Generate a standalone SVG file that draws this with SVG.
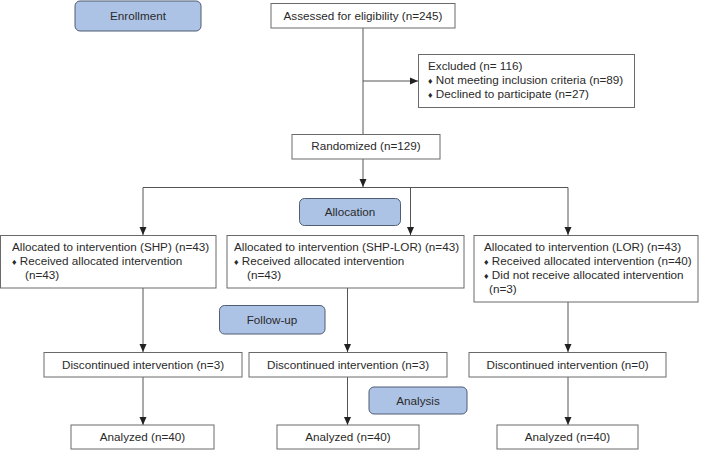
<svg xmlns="http://www.w3.org/2000/svg" width="702" height="450" viewBox="0 0 702 450">
<defs>
<marker id="arr" markerUnits="userSpaceOnUse" markerWidth="8" markerHeight="8" viewBox="0 0 8 8" refX="8" refY="4" orient="auto">
<path d="M0,0.5 L8,4 L0,7.5 Z" fill="#222"/>
</marker>
<style>
.box{fill:#fff;stroke:#6a6a6a;stroke-width:1}
.stage{fill:#adc3e6;stroke:#4f5d75;stroke-width:1}
.t{font-family:"Liberation Sans",Arial,sans-serif;font-size:11.7px;fill:#2a2a2a}
.c{text-anchor:middle}
.b{font-size:9px}
.ln{fill:none;stroke:#555;stroke-width:1}
</style>
</defs>
<rect width="702" height="450" fill="#fff"/>
<g id="connectors">
<path class="ln" d="M363,28 V134"/>
<path class="ln" d="M363,81 H418" marker-end="url(#arr)"/>
<path class="ln" d="M363,159 V187" marker-end="url(#arr)"/>
<path class="ln" d="M143,187.5 H568"/>
<path class="ln" d="M143,187.5 V235" marker-end="url(#arr)"/>
<path class="ln" d="M410.5,187.5 V235" marker-end="url(#arr)"/>
<path class="ln" d="M568,187.5 V235" marker-end="url(#arr)"/>
<path class="ln" d="M143,288 V352" marker-end="url(#arr)"/>
<path class="ln" d="M347.5,288 V352" marker-end="url(#arr)"/>
<path class="ln" d="M568,302 V352" marker-end="url(#arr)"/>
<path class="ln" d="M143,377 V425" marker-end="url(#arr)"/>
<path class="ln" d="M347.5,377 V425" marker-end="url(#arr)"/>
<path class="ln" d="M568,377 V425" marker-end="url(#arr)"/>
</g>
<g id="enrollment">
<rect class="stage" x="75" y="1" width="126" height="30" rx="5"/>
<text class="t c" x="138" y="19.5">Enrollment</text>
</g>
<g id="assessed">
<rect class="box" x="271" y="3.5" width="184" height="24.5"/>
<text class="t c" x="363" y="19.5">Assessed for eligibility (n=245)</text>
</g>
<g id="excluded">
<rect class="box" x="418.5" y="54.5" width="216" height="53"/>
<text class="t" x="428" y="70">Excluded (n= 116)</text>
<text class="t" x="428" y="84"><tspan class="b">♦</tspan> Not meeting inclusion criteria (n=89)</text>
<text class="t" x="428" y="98"><tspan class="b">♦</tspan> Declined to participate (n=27)</text>
</g>
<g id="randomized">
<rect class="box" x="292" y="134.5" width="148" height="24.5"/>
<text class="t c" x="366" y="150">Randomized (n=129)</text>
</g>
<g id="allocation">
<rect class="stage" x="299.5" y="198.5" width="101" height="27" rx="5"/>
<text class="t c" x="350" y="216">Allocation</text>
</g>
<g id="alloc-shp">
<rect class="box" x="0.5" y="235.5" width="215.5" height="52.5"/>
<text class="t" x="12" y="251">Allocated to intervention (SHP) (n=43)</text>
<text class="t" x="12" y="265"><tspan class="b">♦</tspan> Received allocated intervention</text>
<text class="t" x="25" y="279">(n=43)</text>
</g>
<g id="alloc-shp-lor">
<rect class="box" x="227" y="235.5" width="237" height="52.5"/>
<text class="t" x="234" y="251">Allocated to intervention (SHP-LOR) (n=43)</text>
<text class="t" x="234" y="265"><tspan class="b">♦</tspan> Received allocated intervention</text>
<text class="t" x="247" y="279">(n=43)</text>
</g>
<g id="alloc-lor">
<rect class="box" x="474" y="235.5" width="224" height="66.5"/>
<text class="t" x="484" y="251">Allocated to intervention (LOR) (n=43)</text>
<text class="t" x="484" y="265"><tspan class="b">♦</tspan> Received allocated intervention (n=40)</text>
<text class="t" x="484" y="279"><tspan class="b">♦</tspan> Did not receive allocated intervention</text>
<text class="t" x="489" y="293">(n=3)</text>
</g>
<g id="followup">
<rect class="stage" x="219.5" y="305.5" width="105.5" height="28.5" rx="5"/>
<text class="t c" x="272" y="324">Follow-up</text>
</g>
<g id="disc-shp">
<rect class="box" x="44" y="352.5" width="198" height="24.5"/>
<text class="t c" x="143" y="369">Discontinued intervention (n=3)</text>
</g>
<g id="disc-shp-lor">
<rect class="box" x="249" y="352.5" width="198" height="24.5"/>
<text class="t c" x="348" y="369">Discontinued intervention (n=3)</text>
</g>
<g id="disc-lor">
<rect class="box" x="469" y="352.5" width="197" height="24.5"/>
<text class="t c" x="567.5" y="369">Discontinued intervention (n=0)</text>
</g>
<g id="analysis">
<rect class="stage" x="369" y="387" width="98" height="27" rx="5"/>
<text class="t c" x="418" y="405">Analysis</text>
</g>
<g id="an-shp">
<rect class="box" x="71" y="425" width="143" height="24"/>
<text class="t c" x="142.5" y="441">Analyzed (n=40)</text>
</g>
<g id="an-shp-lor">
<rect class="box" x="277" y="425" width="142" height="24"/>
<text class="t c" x="348" y="441">Analyzed (n=40)</text>
</g>
<g id="an-lor">
<rect class="box" x="497" y="425" width="141" height="24"/>
<text class="t c" x="567.5" y="441">Analyzed (n=40)</text>
</g>
</svg>
